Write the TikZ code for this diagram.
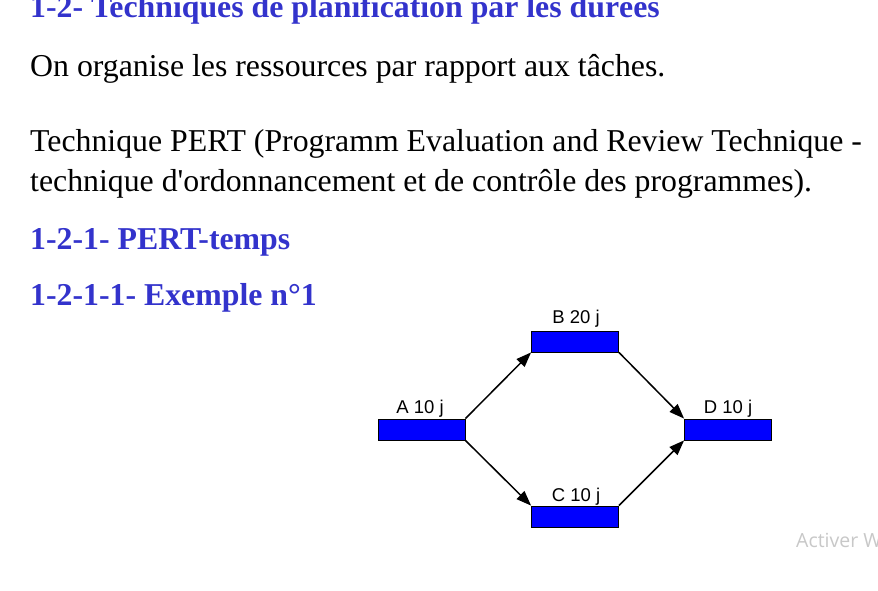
\documentclass[tikz,border=0pt]{standalone}
\usepackage{fontspec}
\setmainfont{Liberation Serif}[Ligatures=TeXOff]
\newfontfamily\labelfont{Liberation Sans}
\newfontfamily\wmfont{Open Sans}
\usetikzlibrary{arrows.meta}
\definecolor{headblue}{RGB}{51,51,204}
\definecolor{boxblue}{RGB}{0,0,255}
\definecolor{wmgray}{RGB}{200,200,200}
\tikzset{
  txt/.style={anchor=base west, inner sep=0pt, font=\fontsize{31.8}{36}\selectfont},
  head/.style={txt, text=headblue, font=\fontsize{31.8}{36}\selectfont\bfseries},
  task/.style={draw=black, fill=boxblue, line width=0.8pt, minimum width=87pt, minimum height=21pt, inner sep=0pt},
  tlabel/.style={anchor=base, inner sep=0pt, font=\labelfont\fontsize{18.5}{22}\selectfont},
  link/.style={-{Triangle[length=15pt,width=11pt]}, line width=1.5pt}
}
\begin{document}
\begin{tikzpicture}[x=1pt,y=-1pt]
\useasboundingbox (0,0) rectangle (878,591);
\clip (0,0) rectangle (878,591);
\fill[white] (0,0) rectangle (878,591);
% texts
\node[head] (t1) at (30,18) {1-2- Techniques de planification par les durées};
\node[txt] (t2) at (30,77) {On organise les ressources par rapport aux tâches.};
\node[txt] (t3) at (30,152) {Technique PERT (Programm Evaluation and Review Technique -};
\node[txt] (t4) at (30,191) {technique d'ordonnancement et de contrôle des programmes).};
\node[head] (t5) at (30,249) {1-2-1- PERT-temps};
\node[head] (t6) at (30,305) {1-2-1-1- Exemple n°1};
% tasks
\node[task] (A) at (421.5,429.5) {};
\node[task] (B) at (575,341.5) {};
\node[task] (C) at (575,516.5) {};
\node[task] (D) at (728,429.5) {};
\node[tlabel] (la) at (420,413) {A 10 j};
\node[tlabel] (lb) at (576,323) {B 20 j};
\node[tlabel] (lc) at (576,501) {C 10 j};
\node[tlabel] (ld) at (728,413) {D 10 j};
% links
\draw[link] (A.north east) -- (B.south west);
\draw[link] (A.south east) -- (C.north west);
\draw[link] (B.south east) -- (D.north west);
\draw[link] (C.north east) -- (D.south west);
% watermark
\node[anchor=base west, inner sep=0pt, text=wmgray, font=\wmfont\fontsize{19.5}{22}\selectfont] (wm) at (796,547) {Activer W};
\end{tikzpicture}
\end{document}
